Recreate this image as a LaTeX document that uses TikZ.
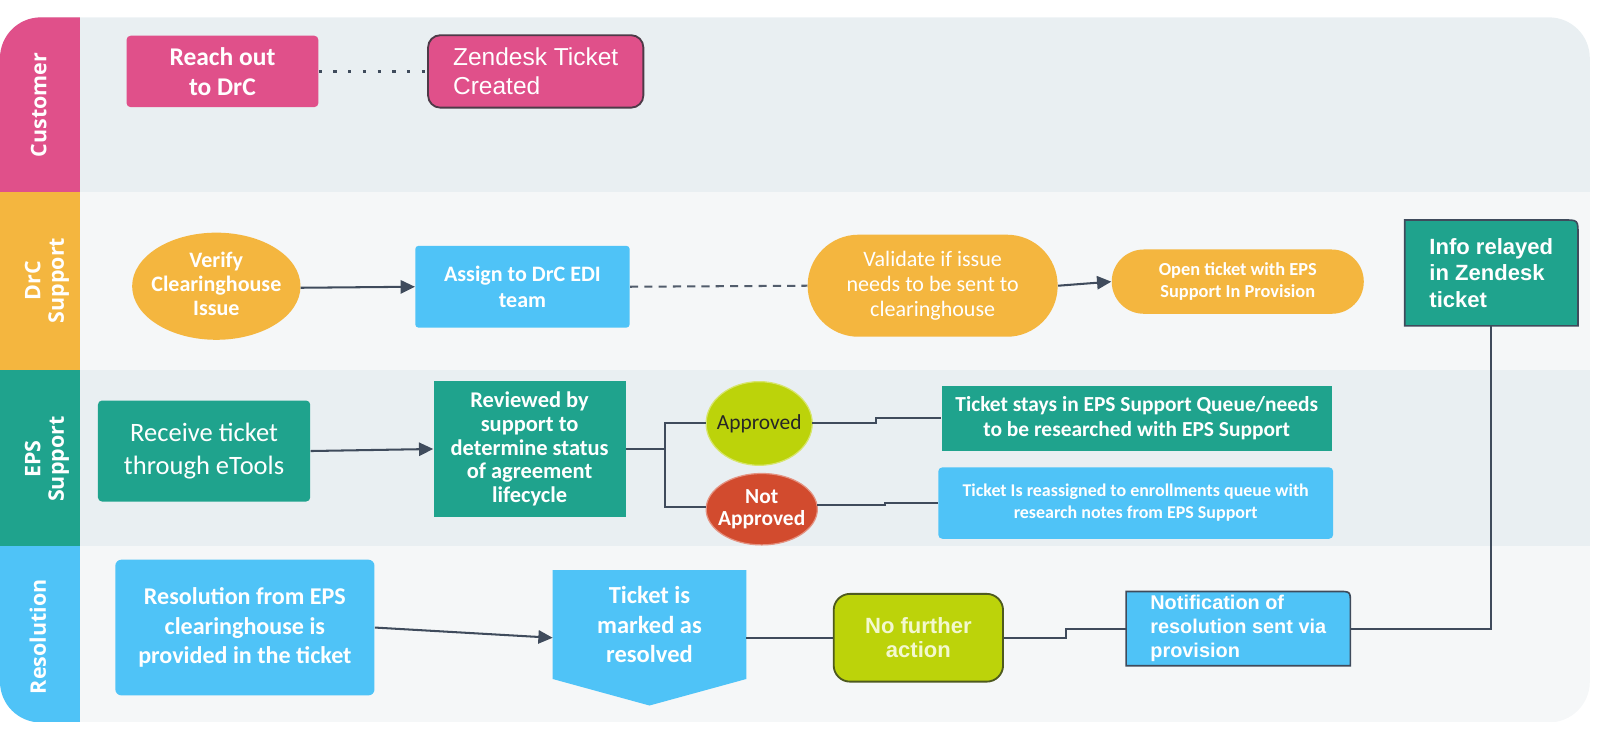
\documentclass[tikz,border=0pt]{standalone}
\usepackage{fontspec}
\setmainfont{Carlito}
\newfontfamily\lanefont{Open Sans}
\newfontfamily\arialf{Liberation Sans}
\usetikzlibrary{shapes.geometric,arrows.meta}
\definecolor{pinkc}{HTML}{E0508A}
\definecolor{orangec}{HTML}{F4B63F}
\definecolor{tealc}{HTML}{1FA38D}
\definecolor{bluec}{HTML}{4FC3F7}
\definecolor{limec}{HTML}{BCD30A}
\definecolor{redc}{HTML}{D24B2E}
\definecolor{laneA}{HTML}{E9EFF2}
\definecolor{laneB}{HTML}{F5F7F8}
\definecolor{linec}{HTML}{3F4B5C}
\definecolor{pinkbord}{HTML}{4E3A48}
\definecolor{olivebord}{HTML}{4E5A1E}
\definecolor{nftext}{HTML}{F3F8CF}
\newcommand{\setfs}[2]{\fontsize{#1}{#2}\selectfont}
\pgfdeclarelayer{lanes}
\pgfdeclarelayer{shapes}
\pgfsetlayers{lanes,shapes,main}
\begin{document}
\begin{tikzpicture}[x=0.5pt,y=-0.5pt,
  box/.style={inner sep=0pt, align=center, text=white},
  lanelbl/.style={rotate=90, text=white, align=center, inner sep=0pt,
    font=\lanefont\bfseries\setfs{10.5}{11.5}},
  conn/.style={draw=linec, line width=1pt},
  arr/.style={conn, -{Triangle[length=7pt,width=6.5pt]}},
  dotline/.style={draw=linec, line width=1.6pt, dash pattern=on 1.6pt off 5.6pt},
  dashline/.style={draw=linec!90, line width=1pt, dash pattern=on 4pt off 3pt}]
\useasboundingbox (0,0) rectangle (1568,723);

% lanes
\begin{pgfonlayer}{lanes}
\begin{scope}
\clip[rounded corners=20pt] (0,17) rectangle (1558,708);
\fill[laneA] (0,17) rectangle (1558,188);
\fill[laneB] (0,188) rectangle (1558,363);
\fill[laneA] (0,363) rectangle (1558,535);
\fill[laneB] (0,535) rectangle (1558,708);
\fill[pinkc] (0,17) rectangle (78,188);
\fill[orangec] (0,188) rectangle (78,363);
\fill[tealc] (0,363) rectangle (78,535);
\fill[bluec] (0,535) rectangle (78,708);
\end{scope}
\end{pgfonlayer}

\node[lanelbl] (lc) at (38,103) {Customer};
\node[lanelbl] (ld) at (46,275) {DrC\\Support};
\node[lanelbl] (le) at (46,450) {EPS\\Support};
\node[lanelbl] (lr) at (37,624) {Resolution};

% Customer
\node[box, fill=pinkc, rounded corners=2pt, minimum width=94pt, minimum height=35pt,
  font=\bfseries\setfs{12.5}{14.5}] (reach) at (218,70) {Reach out\\to DrC};
\node[box, fill=pinkc, draw=pinkbord, line width=0.9pt, rounded corners=6pt,
  minimum width=105.5pt, minimum height=35.5pt, align=left,
  font=\arialf\setfs{12}{14.5}] (zen) at (525,70) {Zendesk Ticket\\Created};

% DrC Support
\node[box, minimum width=82.5pt, minimum height=52.5pt,
  font=\bfseries\setfs{10.8}{11.8}] (verify) at (212,278) {Verify\\Clearinghouse\\Issue};
\node[box, fill=bluec, rounded corners=1.5pt, minimum width=105pt, minimum height=40pt,
  font=\bfseries\setfs{10.8}{13}] (assign) at (512,281) {Assign to DrC EDI\\team};
\node[box, fill=orangec, rounded corners=24.9pt, minimum width=122.5pt, minimum height=50pt,
  font=\setfs{10.8}{12.3}] (validate) at (914,280) {Validate if issue\\needs to be sent to\\clearinghouse};
\node[box, fill=orangec, rounded corners=15.7pt, minimum width=123.5pt, minimum height=31.5pt,
  font=\bfseries\setfs{9}{10.8}] (open) at (1213,276) {Open ticket with EPS\\Support In Provision};
\node[box, minimum width=84.5pt, minimum height=51.5pt, align=left,
  font=\arialf\bfseries\setfs{10.8}{13}] (info) at (1461.5,267.5) {Info relayed\\in Zendesk\\ticket};

% EPS Support
\node[box, fill=tealc, rounded corners=2pt, minimum width=104pt, minimum height=49.5pt,
  font=\setfs{13}{16.5}] (receive) at (200,442) {Receive ticket\\through eTools};
\node[box, fill=tealc, minimum width=94pt, minimum height=66.5pt,
  font=\bfseries\setfs{11}{11.6}] (reviewed) at (519,440) {Reviewed by\\support to\\determine status\\of agreement\\lifecycle};
\node[box, minimum width=52pt, minimum height=41pt, text=black!85,
  font=\setfs{10.5}{12}] (appr) at (744,415) {Approved};
\node[box, minimum width=54.5pt, minimum height=35pt,
  font=\bfseries\setfs{10.5}{11}] (notappr) at (746.5,499) {Not\\Approved};
\node[box, fill=tealc, minimum width=191pt, minimum height=31.5pt,
  font=\bfseries\setfs{10.5}{12}] (stays) at (1114,410) {Ticket stays in EPS Support Queue/needs\\to be researched with EPS Support};
\node[box, fill=bluec, rounded corners=2pt, minimum width=193.5pt, minimum height=35pt,
  font=\bfseries\setfs{8.8}{10.8}] (reassign) at (1113,493) {Ticket Is reassigned to enrollments queue with\\research notes from EPS Support};

% Resolution
\node[box, fill=bluec, rounded corners=3pt, minimum width=127pt, minimum height=66.5pt,
  font=\bfseries\setfs{11.8}{14.5}] (resfrom) at (240,615) {Resolution from EPS\\clearinghouse is\\provided in the ticket};
\node[box, minimum width=94.5pt, minimum height=53pt,
  font=\bfseries\setfs{12}{14.5}] (marked) at (636.5,612) {Ticket is\\marked as\\resolved};
\node[box, fill=limec, draw=olivebord, line width=0.9pt, rounded corners=8pt,
  minimum width=83pt, minimum height=43pt, text=nftext,
  font=\arialf\bfseries\setfs{10.8}{12}] (nofurther) at (900,625) {No further\\action};
\node[box, minimum width=109.5pt, minimum height=36pt, align=left,
  font=\arialf\bfseries\setfs{9.75}{11.75}] (notif) at (1213.5,616) {Notification of\\resolution sent via\\provision};

% custom shapes behind text
\begin{pgfonlayer}{shapes}
\fill[orangec] (212,280.5) ellipse [x radius=82.5, y radius=52.5];
\filldraw[fill=limec, draw=limec!60!white, line width=0.6pt]
  (appr.center) ellipse [x radius=52, y radius=41];
\filldraw[fill=redc, draw=redc!60!white, line width=0.6pt]
  (notappr.center) ellipse [x radius=54.5, y radius=35];
\filldraw[fill=tealc, draw=linec, line width=0.8pt]
  (info.south west) -- (info.north west) -- ([xshift=-7pt]info.north east)
  .. controls (info.north east) .. ([yshift=-7pt]info.north east)
  -- (info.south east) -- cycle;
\fill[bluec] (marked.north west) -- (marked.north east) -- (marked.south east)
  -- ([yshift=-13pt]marked.south) -- (marked.south west) -- cycle;
\filldraw[fill=bluec, draw=linec, line width=0.8pt]
  (notif.south west) -- (notif.north west) -- ([xshift=-6pt]notif.north east)
  .. controls (notif.north east) .. ([yshift=-6pt]notif.north east)
  -- (notif.south east) -- cycle;
\end{pgfonlayer}

% connectors
\draw[dotline] (reach.east) -- (zen.west);
\draw[arr] ([xshift=41.25pt,yshift=-2pt]verify.center) -- (assign.west);
\draw[dashline] (assign.east) -- (validate.west);
\draw[arr] (validate.east) -- (open.west);
\draw[arr] (receive.east) -- (reviewed.west);
\coordinate (br) at ([xshift=19pt]reviewed.east);
\draw[conn] (reviewed.east) -- (br);
\draw[conn] (br) |- (appr.west);
\draw[conn] (br) |- ([yshift=1pt]notappr.west);
\draw[conn] ([xshift=26pt]appr.center) -- ++(62,0) |- (stays.west);
\draw[conn] ([xshift=27.25pt,yshift=2pt]notappr.center) -- ++(66,0) |- (reassign.west);
\draw[arr] (resfrom.east) -- ([yshift=-6.5pt]marked.west);
\draw[conn] ([yshift=-6.5pt]marked.east) -- (nofurther.west);
\draw[conn] (nofurther.east) -- ++(61,0) |- (notif.west);
\draw[conn] (notif.east) -| (info.south);
\end{tikzpicture}
\end{document}
